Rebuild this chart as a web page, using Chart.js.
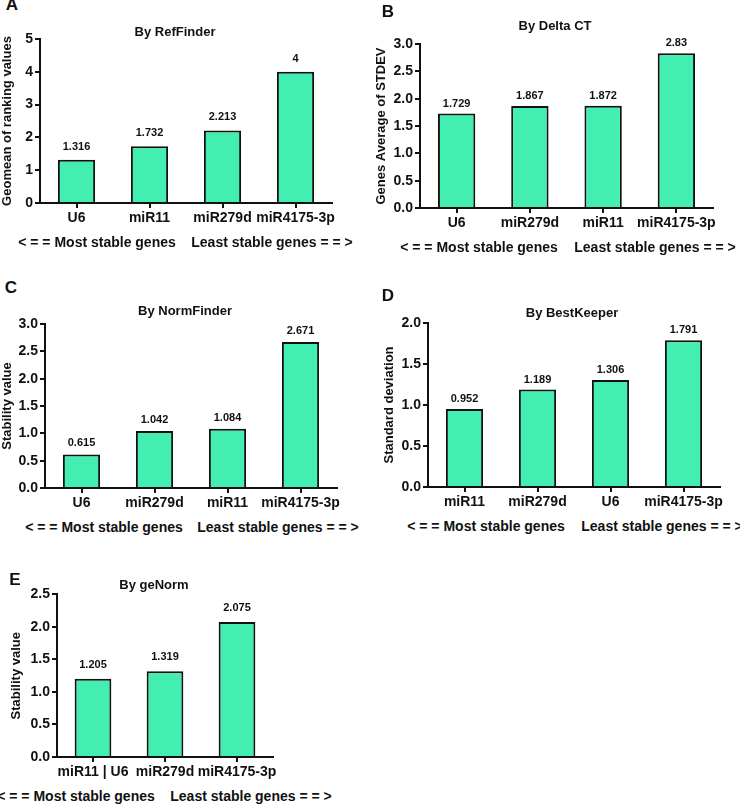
<!DOCTYPE html>
<html>
<head>
<meta charset="utf-8">
<script src="https://cdn.jsdelivr.net/npm/chart.js@4.4.0/dist/chart.umd.min.js"></script>
<style>
  body { margin: 0; background: #fff; }
  #page { position: relative; width: 740px; height: 804px; overflow: hidden; font-family: "Liberation Sans", Arial, sans-serif; font-weight: bold; color: #111; }
  .txt { position: absolute; transform: translate(-50%, -50%); white-space: nowrap; }
  .letter { font-size: 17px; }
  .ttl { font-size: 13px; }
  .foot { font-size: 14px; }
  canvas { position: absolute; }
</style>
</head>
<body>
<div id="page"></div>
<script>
// data
const refLabels = ['U6', 'miR11', 'miR279d', 'miR4175-3p'];
const refValues = [1.316, 1.732, 2.213, 4];

const deltaLabels = ['U6', 'miR279d', 'miR11', 'miR4175-3p'];
const deltaValues = [1.729, 1.867, 1.872, 2.83];

const normLabels = ['U6', 'miR279d', 'miR11', 'miR4175-3p'];
const normValues = [0.615, 1.042, 1.084, 2.671];

const bestLabels = ['miR11', 'miR279d', 'U6', 'miR4175-3p'];
const bestValues = [0.952, 1.189, 1.306, 1.791];

const genormLabels = ['miR11 | U6', 'miR279d', 'miR4175-3p'];
const genormValues = [1.205, 1.319, 2.075];

const page = document.getElementById('page');
const INK = '#111';
const BAR = '#42EFB0';
const FONT = '"Liberation Sans", Arial, sans-serif';

function addText(cls, text, x, y) {
    const d = document.createElement('div');
    d.className = 'txt ' + cls;
    d.textContent = text;
    d.style.left = x + 'px';
    d.style.top = y + 'px';
    page.appendChild(d);
}

// draws the value above each bar
const valueLabels = {
    id: 'valueLabels',
    afterDatasetsDraw(chart, args, opts) {
        const ctx = chart.ctx;
        const meta = chart.getDatasetMeta(0);
        ctx.save();
        ctx.font = 'bold 11px ' + FONT;
        ctx.fillStyle = INK;
        ctx.textAlign = 'center';
        ctx.textBaseline = 'middle';
        meta.data.forEach((bar, i) => {
            const v = chart.data.datasets[0].data[i];
            ctx.fillText(String(v), bar.x, bar.y - opts.gap);
        });
        ctx.restore();
    }
};

function makePanel(p) {
    // p.canvas = [left, top, width, height]; p.area = [left, top, right, bottom] in page coords
    const [cl, ct, cw, chh] = p.canvas;
    const [al, at, ar, ab] = p.area;
    const cv = document.createElement('canvas');
    cv.width = cw; cv.height = chh;
    cv.style.left = cl + 'px';
    cv.style.top = ct + 'px';
    page.appendChild(cv);

    new Chart(cv.getContext('2d'), {
        type: 'bar',
        data: {
            labels: p.labels,
            datasets: [{
                data: p.values,
                backgroundColor: BAR,
                borderColor: INK,
                borderWidth: 2,
                borderSkipped: 'bottom',
                categoryPercentage: 1,
                barPercentage: 0.51
            }]
        },
        options: {
            responsive: false,
            animation: false,
            devicePixelRatio: 1,
            layout: { padding: { left: 0, top: at - ct, right: cl + cw - ar, bottom: 0 } },
            plugins: {
                legend: { display: false },
                tooltip: { enabled: false },
                valueLabels: { gap: p.gap }
            },
            scales: {
                x: {
                    offset: true,
                    grid: { display: true, drawOnChartArea: false, offset: false, tickLength: 5, lineWidth: 2, color: INK },
                    border: { display: true, width: 2, color: INK },
                    ticks: { color: INK, padding: 2, maxRotation: 0, autoSkip: false, font: { family: FONT, size: 14, weight: 'bold' } },
                    afterFit(s) { s.height = ct + chh - ab; }
                },
                y: {
                    min: 0, max: p.max,
                    ticks: {
                        stepSize: p.step, color: INK, padding: 2,
                        font: { family: FONT, size: 14, weight: 'bold' },
                        callback: v => v.toFixed(p.dec)
                    },
                    grid: { display: true, drawOnChartArea: false, tickLength: 5, lineWidth: 2, color: INK },
                    border: { display: true, width: 2, color: INK },
                    title: { display: true, text: p.ytitle, color: INK, padding: 0, font: { family: FONT, size: 13, weight: 'bold' } },
                    afterFit(s) { s.width = al - cl; }
                }
            }
        },
        plugins: [valueLabels]
    });

    addText('letter', p.letter, p.letterPos[0], p.letterPos[1]);
    addText('ttl', p.title, p.titlePos[0], p.titlePos[1]);
    addText('foot', '< = = Most stable genes', p.foot[0], p.foot[2]);
    addText('foot', 'Least stable genes = = >', p.foot[1], p.foot[2]);
}

makePanel({
    letter: 'A', letterPos: [12, 5], title: 'By RefFinder', titlePos: [175, 31],
    labels: refLabels, values: refValues, max: 5, step: 1, dec: 0, gap: 13,
    ytitle: 'Geomean of ranking values',
    canvas: [0, 20, 345, 215], area: [40, 39, 332, 203],
    foot: [97, 272, 242]
});

makePanel({
    letter: 'B', letterPos: [388, 12], title: 'By Delta CT', titlePos: [555, 25],
    labels: deltaLabels, values: deltaValues, max: 3, step: 0.5, dec: 1, gap: 10,
    ytitle: 'Genes Average of STDEV',
    canvas: [374, 30, 356, 210], area: [420, 44, 713, 208],
    foot: [479, 655, 247]
});

makePanel({
    letter: 'C', letterPos: [11, 288], title: 'By NormFinder', titlePos: [185, 310],
    labels: normLabels, values: normValues, max: 3, step: 0.5, dec: 1, gap: 11,
    ytitle: 'Stability value',
    canvas: [0, 312, 350, 206], area: [45, 324, 337, 488],
    foot: [104, 278, 527]
});

makePanel({
    letter: 'D', letterPos: [388, 296], title: 'By BestKeeper', titlePos: [572, 312],
    labels: bestLabels, values: bestValues, max: 2, step: 0.5, dec: 1, gap: 10,
    ytitle: 'Standard deviation',
    canvas: [382, 312, 358, 206], area: [428, 323, 720, 487],
    foot: [486, 662, 526]
});

makePanel({
    letter: 'E', letterPos: [15, 580], title: 'By geNorm', titlePos: [154, 584],
    labels: genormLabels, values: genormValues, max: 2.5, step: 0.5, dec: 1, gap: 14,
    ytitle: 'Stability value',
    canvas: [9, 584, 290, 200], area: [57, 594, 273, 757],
    foot: [76, 251, 796]
});
</script>
</body>
</html>
